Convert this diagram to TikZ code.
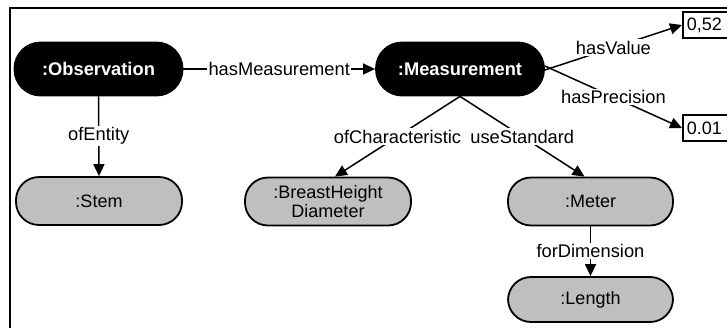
\documentclass[tikz,border=0pt]{standalone}
\usepackage{fontspec}
\setmainfont{Liberation Sans}
\usetikzlibrary{arrows.meta,positioning}
\begin{document}
\begin{tikzpicture}[x=1pt,y=-1pt,
  base/.style={draw=black,line width=1.8pt,rounded corners=23pt,
    minimum height=48pt,font=\fontsize{18}{21}\selectfont,inner sep=2pt,align=center},
  dark/.style={base,fill=black,text=white,font=\fontsize{18.3}{21}\selectfont\bfseries,minimum width=168pt,minimum height=53pt,rounded corners=26pt},
  light/.style={base,fill=black!25,minimum width=166pt},
  valbox/.style={draw=black,line width=1.8pt,minimum height=26pt,minimum width=60pt,
    text width=52pt,align=left,inner xsep=3pt,font=\fontsize{18}{21}\selectfont},
  rel/.style={line width=1.5pt,-{Triangle[length=12pt,width=11pt]}},
  lab/.style={midway,fill=white,inner sep=1.5pt,font=\fontsize{18.3}{21}\selectfont}]
\useasboundingbox (0,0) rectangle (727,327);
\draw[line width=2pt] (10,340) -- (10,8) -- (740,8);
\node[dark] (obs) at (98.5,69) {:Observation};
\node[dark] (meas) at (460,69) {:Measurement};
\node[light] (stem) at (99,201) {:Stem};
\node[light] (bhd) at (328,201.5) {:BreastHeight\\[-2pt]Diameter};
\node[light,minimum width=165pt] (meter) at (590.5,201.5) {:Meter};
\node[light,minimum width=165pt,minimum height=45pt] (len) at (590.5,299.5) {:Length};
\node[valbox,anchor=west] (v1) at (682,25) {0,52};
\node[valbox,anchor=west] (v2) at (682,128) {0.01};
\draw[rel] (obs.east) -- node[lab] {hasMeasurement} (meas.west);
\draw[rel] (obs.south) -- node[lab] {ofEntity} (stem.north);
\draw[rel] (meas.south) -- node[lab] {ofCharacteristic} ([xshift=7pt]bhd.north);
\draw[rel] (meas.south) -- node[lab] {useStandard} ([xshift=-6pt]meter.north);
\draw[rel] ([yshift=-1pt]meas.east) -- node[lab] {hasValue} (v1.west);
\draw[rel] ([yshift=3pt]meas.east) -- node[lab] {hasPrecision} (v2.west);
\draw[rel] (meter.south) -- node[lab] {forDimension} (len.north);
\end{tikzpicture}
\end{document}
